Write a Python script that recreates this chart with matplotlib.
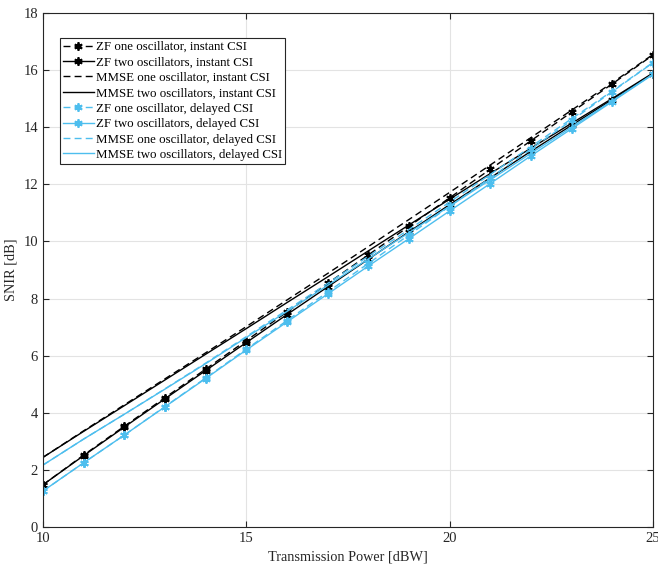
import numpy as np
import matplotlib.pyplot as plt

# transmission power [dBW]
power = [10, 11, 12, 13, 14, 15, 16, 17, 18, 19, 20, 21, 22, 23, 24, 25]

# SNIR [dB], instant CSI
zf_one_inst = [1.48, 2.52, 3.53, 4.53, 5.53, 6.53, 7.53, 8.53, 9.53, 10.53, 11.53, 12.53, 13.53, 14.53, 15.52, 16.53]
zf_two_inst = [1.48, 2.50, 3.50, 4.49, 5.48, 6.46, 7.44, 8.41, 9.38, 10.34, 11.29, 12.23, 13.16, 14.07, 14.97, 15.88]
mmse_one_inst = [2.44, 3.37, 4.28, 5.19, 6.10, 7.02, 7.95, 8.88, 9.82, 10.77, 11.72, 12.68, 13.64, 14.60, 15.56, 16.55]
mmse_two_inst = [2.44, 3.35, 4.25, 5.15, 6.05, 6.95, 7.86, 8.76, 9.67, 10.58, 11.48, 12.38, 13.27, 14.14, 15.01, 15.90]

# SNIR [dB], delayed CSI
zf_one_del = [1.26, 2.25, 3.22, 4.22, 5.22, 6.23, 7.23, 8.23, 9.23, 10.23, 11.23, 12.23, 13.24, 14.24, 15.25, 16.26]
zf_two_del = [1.26, 2.25, 3.22, 4.21, 5.20, 6.20, 7.18, 8.16, 9.14, 10.10, 11.07, 12.03, 13.00, 13.95, 14.90, 15.85]
mmse_one_del = [2.17, 3.08, 3.95, 4.84, 5.74, 6.67, 7.60, 8.53, 9.48, 10.42, 11.38, 12.35, 13.32, 14.30, 15.27, 16.27]
mmse_two_del = [2.17, 3.08, 3.95, 4.83, 5.72, 6.64, 7.55, 8.46, 9.39, 10.31, 11.24, 12.16, 13.09, 14.01, 14.93, 15.86]

labels = [
    "ZF one oscillator, instant CSI",
    "ZF two oscillators, instant CSI",
    "MMSE one oscillator, instant CSI",
    "MMSE two oscillators, instant CSI",
    "ZF one oscillator, delayed CSI",
    "ZF two oscillators, delayed CSI",
    "MMSE one oscillator, delayed CSI",
    "MMSE two oscillators, delayed CSI",
]

plt.rcParams['font.family'] = ['Liberation Serif', 'DejaVu Serif']
blue = '#4dbeee'
star = (6, 2, 0)  # matlab-ish asterisk

fig = plt.figure(figsize=(6.58, 5.67), dpi=100)
ax = fig.add_axes([0.0653, 0.0705, 0.9271, 0.9065])

ax.plot(power, zf_one_inst, color='black', ls='--', marker=star, ms=6, mew=1.3, lw=1.0, dashes=(5, 3), label=labels[0])
ax.plot(power, zf_two_inst, color='black', ls='-', marker=star, ms=6, mew=1.3, lw=1.0, label=labels[1])
ax.plot(power, mmse_one_inst, color='black', ls='--', lw=1.0, dashes=(5, 3), label=labels[2])
ax.plot(power, mmse_two_inst, color='black', ls='-', lw=1.0, label=labels[3])
ax.plot(power, zf_one_del, color=blue, ls='--', marker=star, ms=6, mew=1.3, lw=1.0, dashes=(5, 3), label=labels[4])
ax.plot(power, zf_two_del, color=blue, ls='-', marker=star, ms=6, mew=1.3, lw=1.0, label=labels[5])
ax.plot(power, mmse_one_del, color=blue, ls='--', lw=1.0, dashes=(5, 3), label=labels[6])
ax.plot(power, mmse_two_del, color=blue, ls='-', lw=1.0, label=labels[7])

ax.set_xlim(10, 25)
ax.set_ylim(0, 18)
ax.set_xticks([10, 15, 20, 25])
ax.set_yticks(np.arange(0, 19, 2))
ax.grid(True, color='#e3e3e3', lw=0.8)
ax.set_axisbelow(True)
ax.tick_params(direction='in', top=True, right=True, labelsize=10.5, colors='#262626', length=4)
for s in ax.spines.values():
    s.set_color('#262626')
    s.set_linewidth(0.8)

ax.set_xlabel("Transmission Power [dBW]", fontsize=10.3, color='#262626', labelpad=4)
ax.set_ylabel("SNIR [dB]", fontsize=10.3, color='#262626', labelpad=4)

leg = ax.legend(loc='upper left', bbox_to_anchor=(0.028, 0.951), fontsize=9.3, frameon=True,
                fancybox=False, edgecolor='#262626', framealpha=1, borderpad=0.22,
                labelspacing=0.26, handlelength=2.4, handletextpad=0.15, borderaxespad=0)
leg.get_frame().set_linewidth(0.8)

fig.savefig("out.png", dpi=100)
